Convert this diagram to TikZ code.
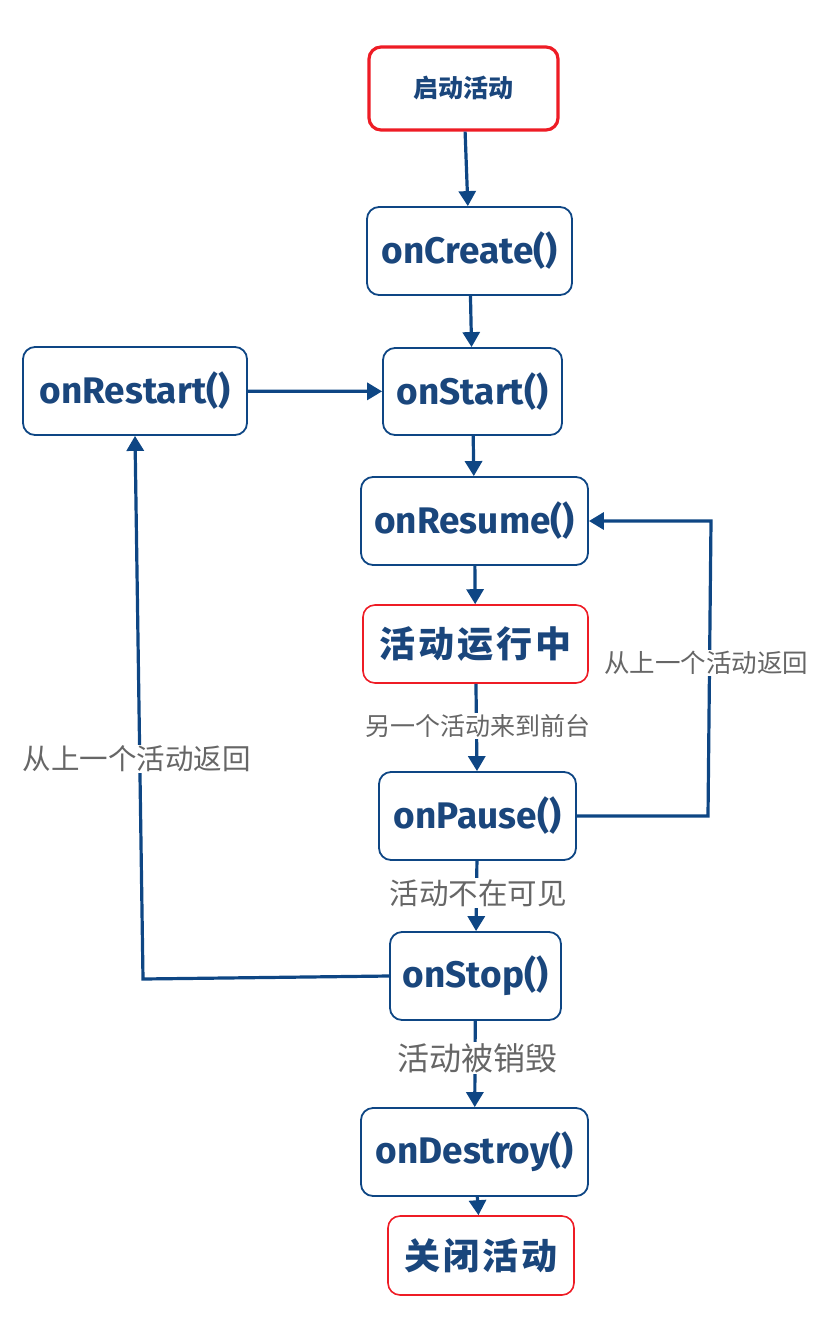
\documentclass[tikz,border=0pt]{standalone}
\usepackage{fontspec}
\usetikzlibrary{arrows.meta}
\newfontfamily\cjk{Noto Sans CJK SC}
\newfontfamily\cjkwide[LetterSpace=8]{Noto Sans CJK SC}
\newfontfamily\fnfont{Fira Sans}
\definecolor{lineblue}{RGB}{14,70,132}
\definecolor{textblue}{RGB}{26,70,124}
\definecolor{edgered}{RGB}{238,28,37}
\definecolor{lblgray}{RGB}{102,102,102}
\begin{document}
\begin{tikzpicture}[x=1pt,y=-1pt,
    box/.style={draw=lineblue,line width=1.8pt,rounded corners=12pt,fill=white,
      text=textblue,font=\fnfont\bfseries\fontsize{37}{40}\selectfont},
    redbox/.style={draw=edgered,line width=1.6pt,rounded corners=12pt,fill=white,
      text=textblue,font=\cjkwide\bfseries\fontsize{36}{40}\selectfont},
    lbl/.style={fill=white,inner sep=1pt,text=lblgray,font=\cjk\fontsize{#1}{#1}\selectfont},
    flow/.style={draw=lineblue,line width=3.2pt,-{Triangle[width=17pt,length=15pt]}}]
  \useasboundingbox (0,0) rectangle (840,1322);
  \node[redbox,line width=3.2pt,minimum width=189pt,minimum height=83pt,
    font=\cjk\bfseries\fontsize{25}{27}\selectfont] (launch) at (463.5,88.5) {启动活动};
  \node[box,minimum width=205pt,minimum height=88pt] (create) at (469.5,251) {onCreate()};
  \node[box,minimum width=179pt,minimum height=87pt] (start) at (472.5,391.5) {onStart()};
  \node[box,minimum width=224pt,minimum height=88pt] (restart) at (135,391) {onRestart()};
  \node[box,minimum width=227pt,minimum height=88pt] (resume) at (474.5,521) {onResume()};
  \node[redbox,minimum width=225pt,minimum height=78pt] (running) at (475.5,644) {活动运行中};
  \node[box,minimum width=197pt,minimum height=88pt] (pause) at (477.5,816) {onPause()};
  \node[box,minimum width=171pt,minimum height=88pt] (stop) at (475.5,976) {onStop()};
  \node[box,minimum width=227pt,minimum height=88pt] (destroy) at (474.5,1152) {onDestroy()};
  \node[redbox,minimum width=186pt,minimum height=79pt] (close) at (481,1255.5) {关闭活动};
  \coordinate (pauseR) at (708,816);
  \coordinate (resumeR) at (711,521);
  \coordinate (stopL) at (143,979);
  % main flow
  \draw[flow] (launch) -- (create);
  \draw[flow] (create) -- (start);
  \draw[flow] (restart) -- (start);
  \draw[flow] (start) -- (resume);
  \draw[flow] (resume) -- (running);
  \draw[flow] (running) -- (pause);
  \draw[flow] (pause) -- (stop);
  \draw[flow] (stop) -- (destroy);
  \draw[flow] (destroy) -- (close);
  % back loops
  \draw[flow] (pause.east) -- (pauseR) -- (resumeR) -- (resume.east);
  \draw[flow] (stop.west) -- (stopL) -- (restart.south);
  \node[lbl=25] (toFront) at (478,726) {另一个活动来到前台};
  \node[lbl=25.5] (backR) at (706,663) {从上一个活动返回};
  \node[lbl=28.5] (backL) at (137,759) {从上一个活动返回};
  \node[lbl=29.5] (hidden) at (478,893) {活动不在可见};
  \node[lbl=32] (killed) at (477,1058) {活动被销毁};
\end{tikzpicture}
\end{document}
